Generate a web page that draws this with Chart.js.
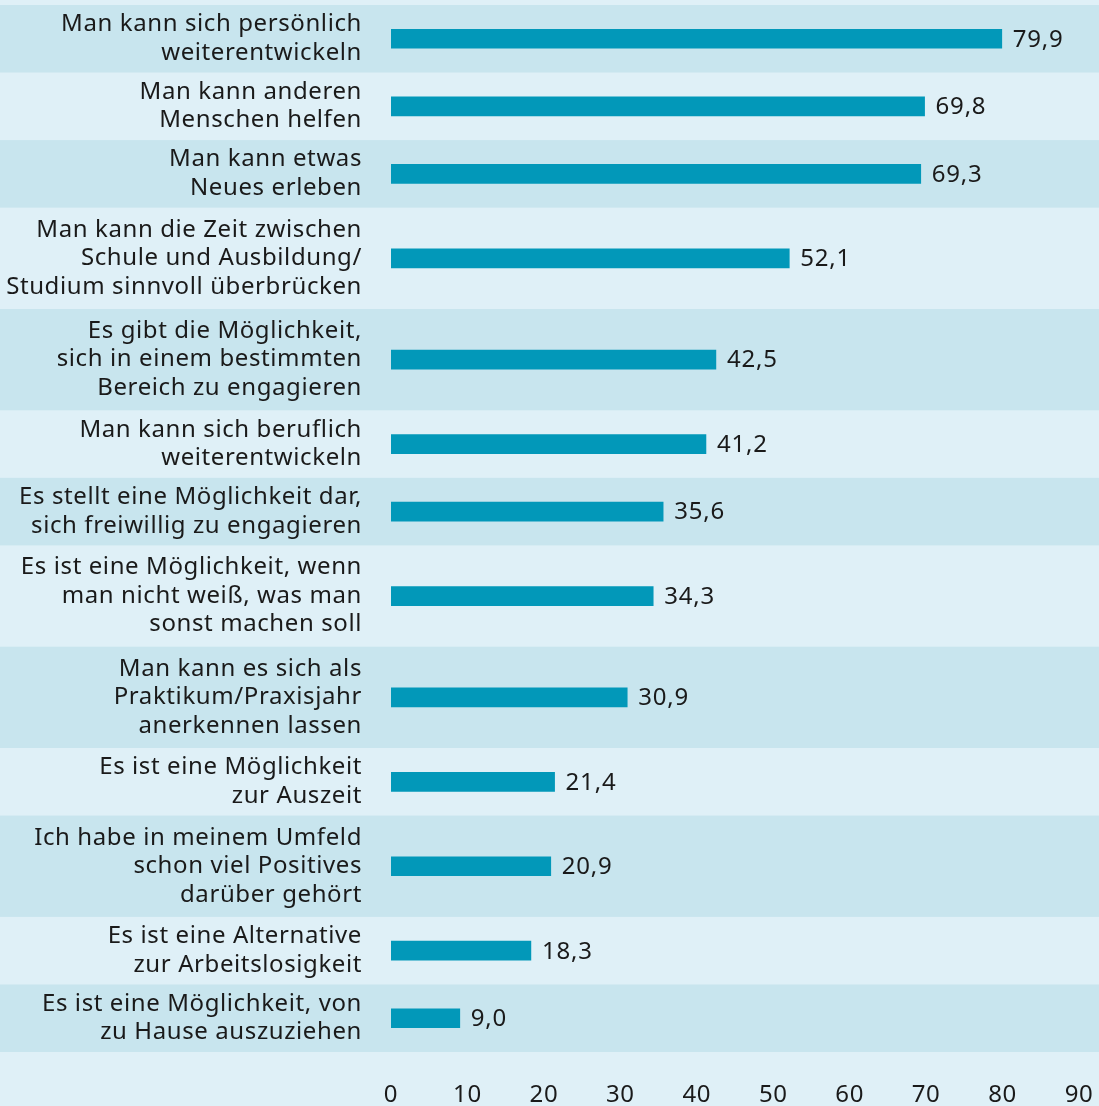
<!DOCTYPE html>
<html lang="de">
<head>
<meta charset="UTF-8">
<title>Gründe</title>
<script src="https://cdn.jsdelivr.net/npm/chart.js@4"></script>
<style>
  body { margin: 0; background: #dff0f7; }
</style>
</head>
<body>
<canvas id="myChart" width="1099" height="1106"></canvas>
<script>
// categories, each split in the lines as printed
var categories = [
    ["Man kann sich persönlich", "weiterentwickeln"],
    ["Man kann anderen", "Menschen helfen"],
    ["Man kann etwas", "Neues erleben"],
    ["Man kann die Zeit zwischen", "Schule und Ausbildung/", "Studium sinnvoll überbrücken"],
    ["Es gibt die Möglichkeit,", "sich in einem bestimmten", "Bereich zu engagieren"],
    ["Man kann sich beruflich", "weiterentwickeln"],
    ["Es stellt eine Möglichkeit dar,", "sich freiwillig zu engagieren"],
    ["Es ist eine Möglichkeit, wenn", "man nicht weiß, was man", "sonst machen soll"],
    ["Man kann es sich als", "Praktikum/Praxisjahr", "anerkennen lassen"],
    ["Es ist eine Möglichkeit", "zur Auszeit"],
    ["Ich habe in meinem Umfeld", "schon viel Positives", "darüber gehört"],
    ["Es ist eine Alternative", "zur Arbeitslosigkeit"],
    ["Es ist eine Möglichkeit, von", "zu Hause auszuziehen"]
];
var values = [79.9, 69.8, 69.3, 52.1, 42.5, 41.2, 35.6, 34.3, 30.9, 21.4, 20.9, 18.3, 9.0];
var xTicks = [0, 10, 20, 30, 40, 50, 60, 70, 80, 90];

var darkBand = '#c8e5ee';
var lightBand = '#dff0f7';
var barColor = '#0298b9';
var textColor = '#1a1a1a';
var fontFamily = "'Noto Sans', sans-serif";

// each row is as tall as its label has lines
var bounds = [0];
categories.forEach(function (c, i) { bounds.push(bounds[i] + c.length); });
var centers = categories.map(function (c, i) { return bounds[i] + c.length / 2; });
var totalLines = bounds[bounds.length - 1];

function fmt(v) { return v.toFixed(1).replace('.', ','); }

var bandPlugin = {
    id: 'bands',
    beforeDraw: function (chart) {
        var ctx = chart.ctx, y = chart.scales.y;
        ctx.letterSpacing = '0.6px';   // printed font runs a bit wider
        ctx.save();
        ctx.fillStyle = lightBand;
        ctx.fillRect(0, 0, chart.width, chart.height);
        ctx.fillStyle = darkBand;
        for (var i = 0; i < categories.length; i += 2) {
            var top = y.getPixelForValue(bounds[i]);
            var bot = y.getPixelForValue(bounds[i + 1]);
            ctx.fillRect(0, top, chart.width, bot - top);
        }
        ctx.restore();
    }
};

var valuePlugin = {
    id: 'values',
    afterDatasetsDraw: function (chart) {
        var ctx = chart.ctx;
        var meta = chart.getDatasetMeta(0);
        ctx.save();
        ctx.font = '24px ' + fontFamily;
        ctx.letterSpacing = '0.8px';
        ctx.fillStyle = textColor;
        ctx.textAlign = 'left';
        ctx.textBaseline = 'middle';
        meta.data.forEach(function (bar, i) {
            ctx.fillText(fmt(values[i]), bar.x + 11, bar.y + 1);
        });
        ctx.restore();
    }
};

var ctx = document.getElementById('myChart').getContext('2d');
var myChart = new Chart(ctx, {
    type: 'bar',
    data: {
        datasets: [{
            data: values.map(function (v, i) { return { x: v, y: centers[i] }; }),
            backgroundColor: barColor,
            barThickness: 19
        }]
    },
    options: {
        indexAxis: 'y',
        responsive: false,
        animation: false,
        layout: { padding: { top: 5, right: 20, left: 0, bottom: 0 } },
        plugins: { legend: { display: false }, tooltip: { enabled: false } },
        scales: {
            x: {
                type: 'linear',
                min: 0, max: 90,
                grid: { display: false, drawTicks: false },
                border: { display: false },
                afterBuildTicks: function (s) { s.ticks = xTicks.map(function (v) { return { value: v }; }); },
                afterFit: function (s) { s.height = 54; s.paddingLeft = 0; s.paddingRight = 0; },
                ticks: {
                    color: textColor,
                    padding: 29,
                    font: { family: fontFamily, size: 24 }
                }
            },
            y: {
                type: 'linear',
                reverse: true,
                offset: false,
                min: 0, max: totalLines,
                grid: { display: false, drawTicks: false },
                border: { display: false },
                afterBuildTicks: function (s) { s.ticks = centers.map(function (v) { return { value: v }; }); },
                afterFit: function (s) { s.width = 391; s.paddingTop = 0; s.paddingBottom = 0; },
                ticks: {
                    autoSkip: false,
                    color: textColor,
                    padding: 29,
                    font: { family: fontFamily, size: 24, lineHeight: '28.5px' },
                    callback: function (value, index) { return categories[index]; }
                }
            }
        }
    },
    plugins: [bandPlugin, valuePlugin]
});
</script>
</body>
</html>
